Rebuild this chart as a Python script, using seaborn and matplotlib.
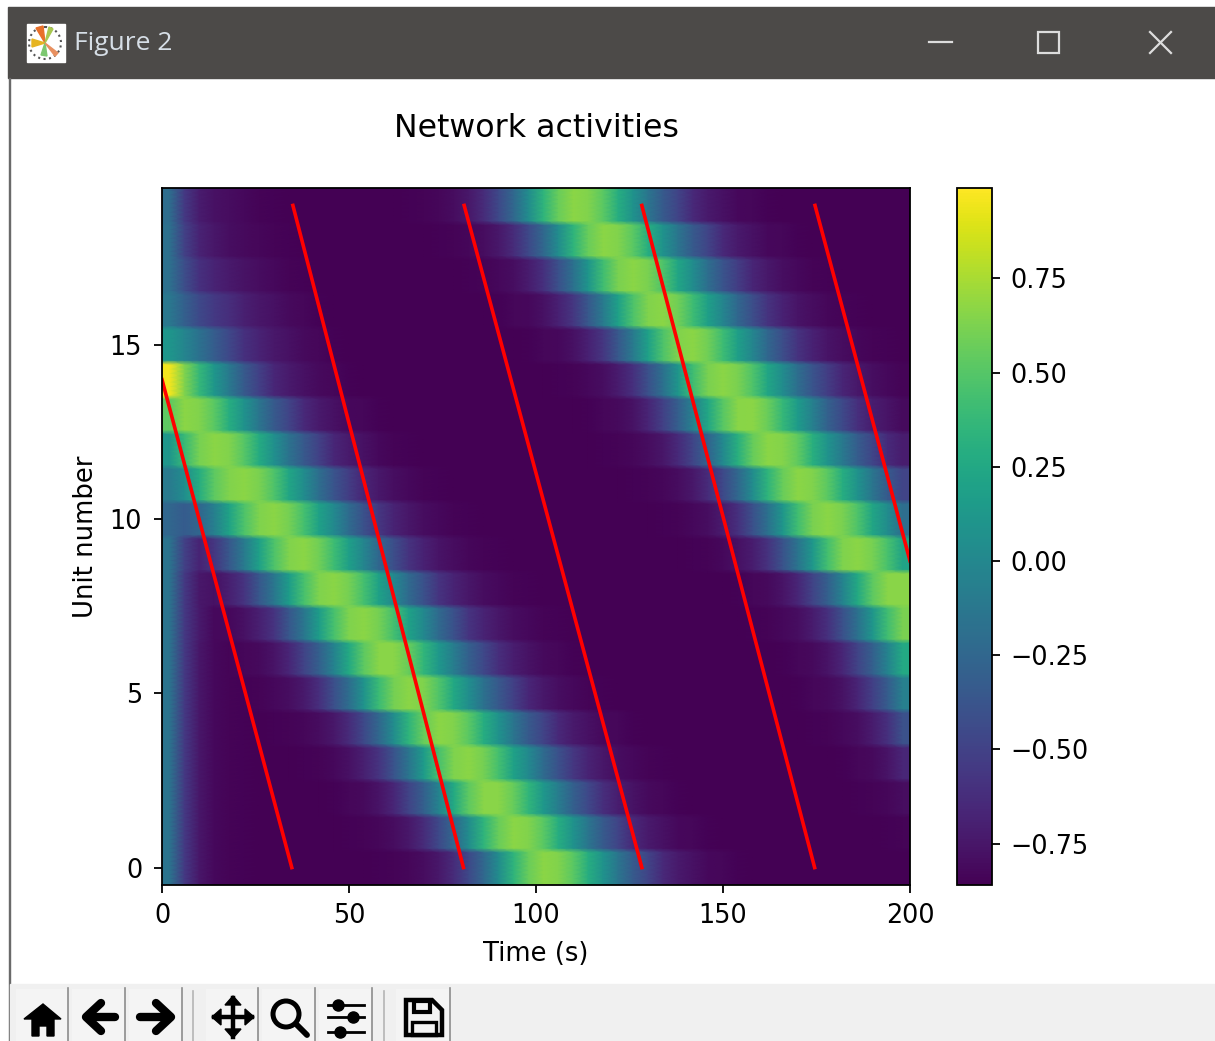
import numpy as np
import pandas as pd
import matplotlib
matplotlib.use("Agg")
import matplotlib.pyplot as plt
from matplotlib.patches import Rectangle, Circle, Polygon
import seaborn as sns

# activity per unit, in hundredths, one column every 4 s
unit_00 = [-15,-55,-75,-82,-84,-85,-86,-86,-86,-86,-86,-86,-86,-86,-85,-84,-83,-80,-74,-63,-45,-24,4,34,57,67,64,52,29,8,-14,-34,-49,-65,-73,-78,-82,-83,-85,-86,-86,-86,-86,-86,-86,-86,-86,-86,-86,-86]
unit_01 = [-15,-55,-75,-82,-84,-85,-86,-86,-86,-86,-86,-86,-85,-84,-83,-80,-74,-63,-45,-24,4,34,57,67,64,52,29,8,-14,-34,-49,-65,-73,-78,-82,-83,-85,-86,-86,-86,-86,-86,-86,-86,-86,-86,-86,-86,-85,-84]
unit_02 = [-15,-55,-75,-82,-84,-85,-86,-86,-86,-86,-86,-85,-83,-81,-76,-66,-49,-30,-3,26,53,66,66,56,35,13,-8,-30,-46,-62,-71,-77,-81,-83,-85,-86,-86,-86,-86,-86,-86,-86,-86,-86,-86,-86,-85,-84,-83,-80]
unit_03 = [-15,-55,-75,-82,-84,-85,-86,-86,-86,-85,-84,-82,-78,-70,-58,-38,-14,15,45,63,67,60,44,20,1,-22,-40,-57,-68,-75,-80,-82,-84,-85,-86,-86,-86,-86,-86,-86,-86,-86,-86,-86,-86,-85,-83,-81,-76,-66]
unit_04 = [-15,-55,-75,-82,-84,-85,-86,-85,-84,-83,-80,-74,-63,-45,-24,4,34,57,67,64,52,29,8,-14,-34,-49,-65,-73,-78,-82,-83,-85,-86,-86,-86,-86,-86,-86,-86,-86,-86,-86,-86,-85,-84,-82,-79,-72,-60,-40]
unit_05 = [-15,-55,-75,-82,-84,-85,-84,-82,-79,-73,-61,-41,-20,9,40,60,67,63,48,25,5,-17,-35,-51,-66,-74,-79,-82,-84,-85,-86,-86,-86,-86,-86,-86,-86,-86,-86,-86,-86,-86,-85,-83,-81,-77,-67,-51,-32,-6]
unit_06 = [-15,-55,-75,-82,-84,-83,-81,-76,-66,-49,-30,-3,26,53,66,66,56,35,13,-8,-30,-46,-62,-71,-77,-81,-83,-85,-86,-86,-86,-86,-86,-86,-86,-86,-86,-86,-86,-86,-86,-85,-83,-81,-76,-66,-49,-30,-3,26]
unit_07 = [-15,-55,-73,-82,-82,-78,-70,-58,-36,-13,16,45,63,67,60,44,20,0,-23,-40,-58,-68,-75,-80,-82,-84,-85,-86,-86,-86,-86,-86,-86,-86,-86,-86,-86,-86,-86,-85,-84,-82,-79,-72,-60,-40,-17,11,42,62]
unit_08 = [-15,-55,-74,-78,-70,-58,-36,-13,16,45,63,67,60,44,20,0,-23,-40,-58,-68,-75,-80,-82,-84,-85,-86,-86,-86,-86,-86,-86,-86,-86,-86,-86,-86,-86,-86,-85,-83,-81,-76,-66,-49,-30,-3,26,53,66,66]
unit_09 = [-15,-50,-68,-57,-35,-10,19,47,64,67,59,41,18,-2,-25,-42,-59,-69,-76,-80,-83,-84,-85,-86,-86,-86,-86,-86,-86,-86,-86,-86,-86,-86,-86,-85,-84,-82,-78,-71,-59,-39,-15,13,44,63,67,61,45,21]
unit_10 = [-25,-33,-26,-6,21,47,63,67,60,44,20,1,-22,-40,-57,-68,-75,-80,-82,-84,-85,-86,-86,-86,-86,-86,-86,-86,-86,-86,-86,-86,-86,-85,-84,-82,-79,-72,-60,-40,-17,11,42,62,67,62,47,23,3,-20]
unit_11 = [-10,5,29,53,64,67,62,47,23,3,-20,-38,-53,-67,-74,-79,-82,-84,-85,-86,-86,-86,-86,-86,-86,-86,-86,-86,-86,-86,-86,-85,-84,-83,-80,-74,-63,-45,-24,4,34,57,67,64,52,29,8,-14,-34,-49]
unit_12 = [11,39,61,67,64,50,27,6,-16,-35,-50,-66,-73,-78,-82,-84,-85,-86,-86,-86,-86,-86,-86,-86,-86,-86,-86,-86,-86,-85,-84,-83,-80,-75,-64,-47,-27,1,31,56,67,65,54,31,9,-11,-32,-48,-64,-72]
unit_13 = [53,67,64,52,29,8,-14,-34,-49,-65,-73,-78,-82,-83,-85,-86,-86,-86,-86,-86,-86,-86,-86,-86,-86,-86,-86,-86,-85,-83,-81,-77,-67,-50,-31,-5,24,51,66,67,57,37,15,-6,-29,-45,-61,-71,-76,-81]
unit_14 = [96,64,37,11,-11,-34,-51,-66,-73,-78,-81,-83,-85,-86,-86,-86,-86,-86,-86,-86,-86,-86,-86,-86,-86,-86,-85,-84,-82,-79,-72,-60,-40,-17,11,42,62,67,62,47,23,3,-20,-38,-53,-67,-74,-79,-82,-84]
unit_15 = [11,-2,-17,-32,-46,-60,-68,-74,-78,-81,-83,-85,-86,-86,-86,-86,-86,-86,-86,-86,-86,-86,-86,-86,-85,-83,-82,-78,-69,-57,-35,-10,19,47,64,67,59,41,18,-2,-25,-42,-59,-69,-76,-80,-83,-84,-85,-86]
unit_16 = [-12,-30,-45,-55,-62,-70,-75,-78,-81,-83,-85,-86,-86,-86,-86,-86,-86,-86,-86,-86,-86,-86,-85,-83,-82,-78,-69,-57,-35,-10,19,47,64,67,59,41,18,-2,-25,-42,-59,-69,-76,-80,-83,-84,-85,-86,-86,-86]
unit_17 = [-18,-42,-60,-68,-73,-77,-80,-82,-84,-85,-86,-86,-86,-86,-86,-86,-86,-86,-86,-86,-85,-84,-82,-79,-72,-60,-40,-17,11,42,62,67,62,47,23,3,-20,-38,-53,-67,-74,-79,-82,-84,-85,-86,-86,-86,-86,-86]
unit_18 = [-18,-50,-68,-75,-79,-81,-83,-84,-85,-86,-86,-86,-86,-86,-86,-86,-86,-86,-85,-84,-83,-80,-74,-63,-45,-24,4,34,57,67,64,52,29,8,-14,-34,-49,-65,-73,-78,-82,-83,-85,-86,-86,-86,-86,-86,-86,-86]
unit_19 = [-20,-55,-72,-78,-80,-82,-84,-85,-86,-86,-86,-86,-86,-86,-86,-86,-85,-84,-83,-80,-74,-63,-45,-24,4,34,57,67,64,52,29,8,-14,-34,-49,-65,-73,-78,-82,-83,-85,-86,-86,-86,-86,-86,-86,-86,-86,-86]

col_step = 4  # seconds per column
row_rep = 8   # mesh rows per unit, keeps the units crisp under gouraud shading

# red target line, nan breaks it at every wrap
red_time = [0, 34.7, np.nan, 35, 80.6, np.nan, 80.8, 128.3, np.nan, 128.3, 174.5, np.nan, 174.6, 200]
red_unit = [14, 0, np.nan, 19, 0, np.nan, 19, 0, np.nan, 19, 0, np.nan, 19, 8.8]

time_ticks = [0, 50, 100, 150, 200]
unit_ticks = [0, 5, 10, 15]
cbar_ticks = [-0.75, -0.5, -0.25, 0, 0.25, 0.5, 0.75]


def time_to_x(t):
    return (np.array(t) + col_step / 2) / col_step


def unit_to_y(u):
    return row_rep * np.array(u) + (row_rep - 1) / 2 + 1


W, H = 1215, 1041
fig = plt.figure(figsize=(W / 100, H / 100), dpi=100)

# window frame, in pixels
win = fig.add_axes([0, 0, 1, 1], zorder=-1)
win.set_xlim(0, W)
win.set_ylim(H, 0)
win.axis("off")
win.add_patch(Rectangle((8, 7), W - 8, 71, color="#4c4a48"))
win.add_patch(Rectangle((8.5, 78), 1.2, H - 78, color="#6a6a6a"))
win.add_patch(Rectangle((10, 984), W - 10, H - 984, color="#f0f0f0"))
win.text(74, 44, "Figure 2", color="#d6dee6", fontsize=19, family="Open Sans", va="center")
win.add_patch(Rectangle((27, 24), 38, 38, color="white"))
win.add_patch(Circle((45, 43), 16, fc="white", ec="#555555", lw=1.5, ls=":"))
win.add_patch(Polygon([(45, 43), (36, 28), (43, 26)], color="#e8702a"))
win.add_patch(Polygon([(45, 43), (32, 39), (32, 47)], color="#e6b422"))
win.add_patch(Polygon([(45, 43), (49, 27), (53, 29)], color="#a8c850"))
win.add_patch(Polygon([(45, 43), (41, 55), (47, 56)], color="#7cc870"))
win.add_patch(Polygon([(45, 43), (58, 53), (55, 56)], color="#e89060"))
win.plot([929, 952], [42, 42], color="#dddddd", lw=1.6)
win.add_patch(Rectangle((1038, 32), 21, 21, fill=False, ec="#dddddd", lw=1.6))
win.plot([1150, 1171], [32, 53], color="#dddddd", lw=1.6)
win.plot([1150, 1171], [53, 32], color="#dddddd", lw=1.6)

for x0, x1 in [(16, 68), (72, 125), (129, 182), (206, 258), (262, 315), (319, 372), (396, 450)]:
    win.add_patch(Rectangle((x0, 989), x1 - x0, 52, fc="#f4f4f4", ec="none"))
    win.plot([x1, x1], [988, H], color="#8c8c8c", lw=1.2)
for x in [193, 384]:
    win.plot([x, x], [991, H], color="#b4b4b4", lw=1.2)

# toolbar icons
win.add_patch(Polygon([(24, 1019), (43, 1004), (61, 1019), (54, 1019), (54, 1036), (47, 1036), (47, 1026),
                       (39, 1026), (39, 1036), (32, 1036), (32, 1019)], color="black"))
for tip, tail, sgn in [(86, 115, 1), (171, 140, -1)]:
    win.plot([tail, tip + sgn * 4], [1017, 1017], color="black", lw=6, solid_capstyle="round")
    win.plot([tip + sgn * 15, tip, tip + sgn * 15], [1003, 1017, 1031], color="black", lw=6,
             solid_capstyle="round", solid_joinstyle="round")
win.plot([214, 252], [1017, 1017], color="black", lw=3.2)
win.plot([233, 233], [998, 1037], color="black", lw=3.2)
for pts in [[(212, 1017), (221, 1009), (221, 1025)], [(254, 1017), (245, 1009), (245, 1025)],
            [(233, 996), (225, 1005), (241, 1005)], [(233, 1038), (225, 1029), (241, 1029)]]:
    win.add_patch(Polygon(pts, color="black"))
win.add_patch(Circle((286, 1014), 13, fill=False, ec="black", lw=3.6))
win.plot([296, 307], [1024, 1035], color="black", lw=4.2, solid_capstyle="round")
for y, xd in [(1005, 338), (1017, 353), (1032, 340)]:
    win.plot([328, 364], [y, y], color="black", lw=2)
    win.plot([xd], [y], "o", color="black", ms=8)
win.add_patch(Polygon([(406, 1000), (432, 1000), (442, 1010), (442, 1035), (406, 1035)],
                      fc="none", ec="black", lw=3.2))
win.add_patch(Rectangle((414, 1001), 16, 11, fc="none", ec="black", lw=3))
win.add_patch(Rectangle((412, 1022), 24, 13, fc="none", ec="black", lw=2.4))

# main panel
ax = fig.add_axes([162 / W, 1 - 885 / H, 748 / W, 697 / H])
cax = fig.add_axes([957 / W, 1 - 885 / H, 35 / W, 697 / H])

units = [unit_00, unit_01, unit_02, unit_03, unit_04, unit_05, unit_06, unit_07, unit_08, unit_09,
         unit_10, unit_11, unit_12, unit_13, unit_14, unit_15, unit_16, unit_17, unit_18, unit_19]
activity = pd.DataFrame(units) / 100

# gouraud puts values on mesh nodes, so repeat rows and pad the edges to fill the axes
grid = np.pad(np.repeat(activity.to_numpy(), row_rep, axis=0), 1, mode="edge")

sns.heatmap(grid, ax=ax, cbar_ax=cax, cmap="viridis", vmin=-0.86, vmax=0.99, shading="gouraud",
            xticklabels=False, yticklabels=False, cbar_kws={"ticks": cbar_ticks})
ax.set_xlim(time_to_x(0), time_to_x(200))
ax.set_ylim(unit_to_y(-0.5), unit_to_y(19.5))

ax.plot(time_to_x(red_time), unit_to_y(red_unit), color="red", lw=2.6)

ax.set_xticks(time_to_x(time_ticks), labels=time_ticks)
ax.set_yticks(unit_to_y(unit_ticks), labels=unit_ticks)
ax.tick_params(axis="both", labelsize=18.4, length=5.8, width=1.3, labelrotation=0)
ax.tick_params(axis="x", pad=7.5)
ax.tick_params(axis="y", pad=8.5)
ax.set_xlabel("Time (s)", fontsize=18.6, labelpad=8)
ax.set_ylabel("Unit number", fontsize=18.6, labelpad=8)
ax.set_title("Network activities", fontsize=22.8, pad=37)

for s in ax.spines.values():
    s.set_visible(True)
    s.set_linewidth(1.3)

cb = ax.collections[0].colorbar
cb.outline.set_linewidth(1.3)
cb.outline.set_edgecolor("black")
cax.tick_params(labelsize=18.4, length=5.8, width=1.3, pad=7.5)

fig.savefig("out.png", dpi=100)
